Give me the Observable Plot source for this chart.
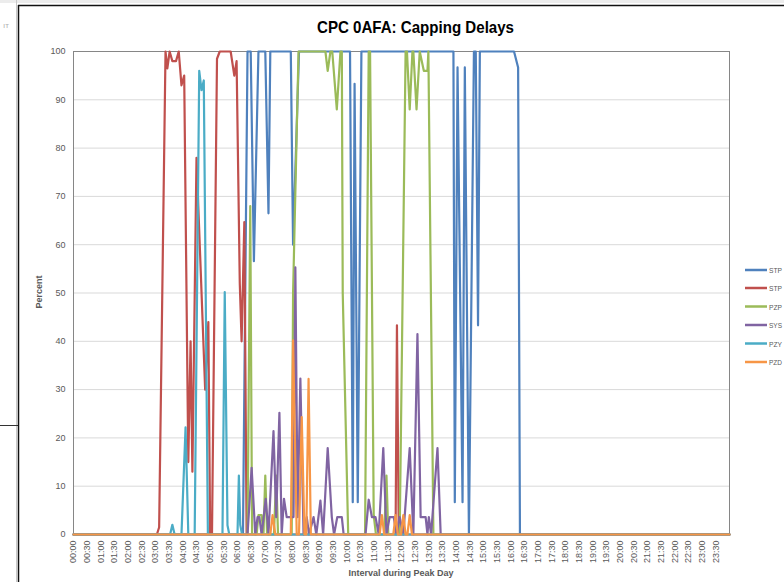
<!DOCTYPE html>
<html><head><meta charset="utf-8">
<script src="https://cdn.jsdelivr.net/npm/d3@7"></script>
<script src="https://cdn.jsdelivr.net/npm/@observablehq/plot@0.6"></script>
<style>
body{margin:0;background:#fff;}
#page{position:relative;width:784px;height:582px;overflow:hidden;background:#fff;}
#page svg{position:absolute;left:0;top:0;}
</style></head><body><div id="page"></div>
<script>
// ---- data (time of day "HH:MM", percent) ----
const xTickLabels = ["00:00","00:30","01:00","01:30","02:00","02:30","03:00","03:30","04:00","04:30","05:00","05:30","06:00","06:30","07:00","07:30","08:00","08:30","09:00","09:30","10:00","10:30","11:00","11:30","12:00","12:30","13:00","13:30","14:00","14:30","15:00","15:30","16:00","16:30","17:00","17:30","18:00","18:30","19:00","19:30","20:00","20:30","21:00","21:30","22:00","22:30","23:00","23:30"];
const yTicks = [0,10,20,30,40,50,60,70,80,90,100];
const seriesNames = ["STP","STP","PZP","SYS","PZY","PZD"];
const seriesColors = ["#4F81BD","#C0504D","#9BBB59","#8064A2","#4BACC6","#F79646"];

const stp1Times = ["00:00","06:12","06:22","06:29","06:36","06:46","07:01","07:08","07:12","07:57","08:02","08:15","10:07","10:13","10:17","10:24","10:32","13:54","13:57","14:03","14:14","14:19","14:28","14:39","14:43","14:48","14:52","16:07","16:16","16:20","24:00"];
const stp1Values = [0,0,100,100,56.6,100,100,66.5,100,100,60,100,100,6.7,93.3,6.7,100,100,6.7,96.7,6.7,96.7,0,100,100,43.3,100,100,96.7,0,0];

const stp2Times = ["00:00","03:03","03:08","03:22","03:26","03:31","03:37","03:45","03:51","03:57","04:03","04:12","04:17","04:21","04:30","04:49","04:56","05:00","05:04","05:15","05:21","05:45","05:53","05:58","06:05","06:09","06:15","06:20","11:47","11:50","11:54","24:00"];
const stp2Values = [0,0,1.5,100,96.5,100,98,98,100,93,95,15,40,13,78,30,44,0,0,98.5,100,100,95,98,52,40,64.7,0,0,43.3,0,0];

const pzpTimes = ["00:00","06:22","06:28","06:32","06:42","06:46","06:53","06:57","07:01","07:05","07:20","07:25","07:29","07:59","08:02","08:14","09:13","09:18","09:24","09:28","09:38","09:46","09:49","09:51","10:03","10:40","10:48","10:51","10:59","11:04","11:22","11:27","11:31","11:56","12:09","12:12","12:18","12:24","12:26","12:33","12:40","12:49","12:57","12:59","13:10","24:00"];
const pzpValues = [0,0,68,0,0,4,4,0,12.2,0,0,12.2,0,0,50,100,100,96,100,100,88,100,100,50,0,0,100,100,4,0,0,12.2,0,0,100,100,88,100,100,88,100,96,96,100,0,0];

const sysTimes = ["00:00","06:22","06:31","06:39","06:44","06:48","06:53","07:02","07:08","07:19","07:25","07:32","07:37","07:42","07:48","08:03","08:07","08:12","08:18","08:25","08:32","08:37","08:47","08:53","09:02","09:08","09:18","09:27","09:32","09:39","09:49","09:53","10:41","10:48","10:55","11:03","11:10","11:20","11:27","11:34","11:43","11:49","11:56","12:04","12:18","12:26","12:35","12:42","12:53","12:57","13:00","13:05","13:19","13:26","24:00"];
const sysValues = [0,0,13.8,0,3.6,3.6,0,7.4,0,21.4,3.6,25.2,0,7.4,3.6,3.6,55.3,3.6,32.3,0,3.6,0,3.6,0,7,0,17.9,3.6,0,3.6,3.6,0,0,7.2,3.6,3.6,0,17.9,0,3.6,3.6,0,3.6,0,17.9,0,41.5,3.6,3.6,0,3.6,0,17.9,0,0];

const pzyTimes = ["00:00","03:32","03:37","03:42","03:57","04:06","04:12","04:26","04:36","04:41","04:46","04:55","05:27","05:32","05:38","05:42","06:00","06:03","06:06","06:10","24:00"];
const pzyValues = [0,0,2,0,0,22.2,0,0,96,92,94,0,0,50.2,1.9,0,0,12.2,2,0,0];

const pzdTimes = ["00:00","07:12","07:17","07:23","07:57","08:02","08:10","08:15","08:21","08:27","08:31","08:36","08:41","11:12","11:17","11:22","11:42","11:47","11:52","11:59","12:04","12:09","12:13","12:18","12:23","24:00"];
const pzdValues = [0,0,4,0,0,40.2,0,0,24.3,0,0,32.2,0,0,4,0,0,4,0,0,4,0,0,4,0,0];

const titleText = "CPC 0AFA: Capping Delays";
const xTitle = "Interval during Peak Day";
const yTitle = "Percent";

// ---- build ----
const toMin = s => { const [h, m] = s.split(":").map(Number); return h * 60 + m; };
const mk = (times, values) => times.map((t, i) => ({t: toMin(t), v: values[i]}));
const allSeries = [
  mk(stp1Times, stp1Values), mk(stp2Times, stp2Values), mk(pzpTimes, pzpValues),
  mk(sysTimes, sysValues), mk(pzyTimes, pzyValues), mk(pzdTimes, pzdValues)
];
const xTickMins = xTickLabels.map(toMin);
const labelOf = new Map(xTickLabels.map(l => [toMin(l), l]));
const FONT = '"Liberation Sans Narrow","Liberation Sans",Arial,sans-serif';

const page = document.getElementById("page");

const chart = Plot.plot({
  width: 784, height: 582,
  marginLeft: 73, marginRight: 55, marginTop: 51, marginBottom: 48,
  x: {domain: [0, 1440]},
  y: {domain: [0, 100]},
  style: {fontFamily: FONT, fontSize: "9px", color: "#595959", background: "transparent", overflow: "visible"},
  marks: [
    Plot.gridY(yTicks, {stroke: "#d9d9d9", strokeOpacity: 1}),
    Plot.frame({stroke: "#868686"}),
    Plot.axisY(yTicks, {tickSize: 0, tickPadding: 8, label: null, fill: "#595959"}),
    Plot.axisX(xTickMins, {tickSize: 0, tickPadding: 6, tickRotate: -90, tickFormat: d => labelOf.get(d), label: null, fill: "#595959"}),
    ...allSeries.map((s, i) => Plot.line(s, {x: "t", y: "v", stroke: seriesColors[i], strokeWidth: 2.2, strokeLinejoin: "round", strokeLinecap: "round"}))
  ]
});
page.appendChild(chart);

// overlay: title, axis titles, legend, window frame
const ov = d3.create("svg").attr("width", 784).attr("height", 582)
  .style("font-family", FONT);
ov.append("rect").attr("x", 0).attr("y", 0).attr("width", 784).attr("height", 3).attr("fill", "#ececec");
ov.append("line").attr("x1", 16.5).attr("x2", 16.5).attr("y1", 0).attr("y2", 582).attr("stroke", "#c8c8c8");
ov.append("line").attr("x1", 0).attr("x2", 18).attr("y1", 425.5).attr("y2", 425.5).attr("stroke", "#333");
ov.append("line").attr("x1", 18.5).attr("x2", 18.5).attr("y1", 5).attr("y2", 582).attr("stroke", "#111").attr("stroke-width", 1.5);
ov.append("line").attr("x1", 18).attr("x2", 784).attr("y1", 5.5).attr("y2", 5.5).attr("stroke", "#111").attr("stroke-width", 1.5);
ov.append("text").attr("x", 3).attr("y", 28).attr("font-size", 8).attr("fill", "#b0b0b0").text("ıт");

ov.append("text").attr("x", 415.5).attr("y", 33).attr("text-anchor", "middle")
  .attr("font-size", 17).attr("font-weight", "bold").attr("fill", "#000")
  .attr("textLength", 197).attr("lengthAdjust", "spacingAndGlyphs").text(titleText);
ov.append("text").attr("x", 401).attr("y", 576).attr("text-anchor", "middle")
  .attr("font-size", 9).attr("font-weight", "bold").attr("fill", "#595959").text(xTitle);
ov.append("text").attr("transform", "translate(42,292) rotate(-90)").attr("text-anchor", "middle")
  .attr("font-size", 9).attr("font-weight", "bold").attr("fill", "#595959").text(yTitle);

const legY = [270, 288, 306.5, 325, 343.5, 362];
seriesNames.forEach((n, i) => {
  ov.append("line").attr("x1", 745).attr("x2", 767).attr("y1", legY[i]).attr("y2", legY[i])
    .attr("stroke", seriesColors[i]).attr("stroke-width", 2.5);
  ov.append("text").attr("x", 769).attr("y", legY[i] + 3).attr("font-size", 8)
    .attr("textLength", 13).attr("lengthAdjust", "spacingAndGlyphs")
    .attr("fill", "#595959").text(n);
});
page.appendChild(ov.node());
</script></body></html>
